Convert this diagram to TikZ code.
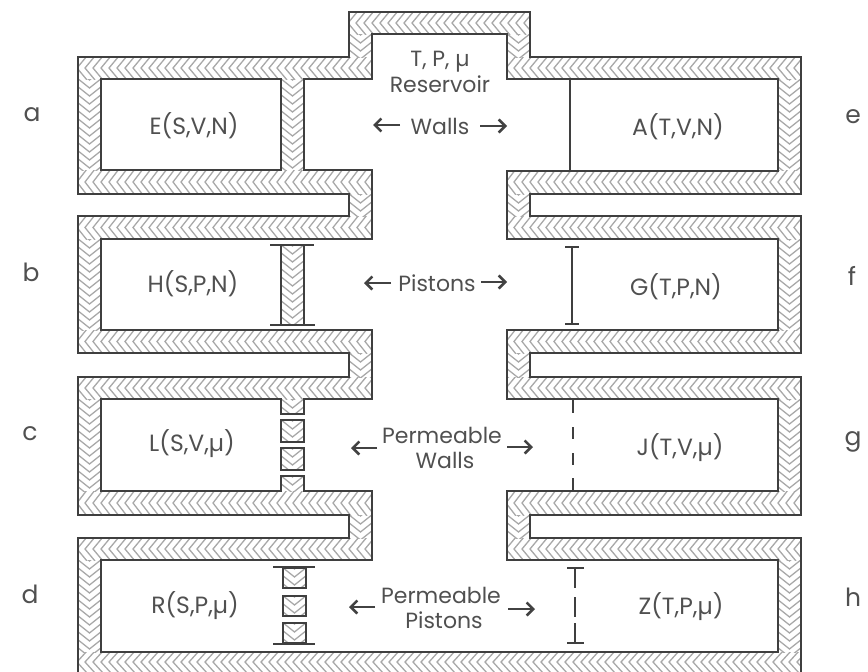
\documentclass[tikz,border=0pt]{standalone}
\usepackage{fontspec}
\setmainfont{Poppins}
\usepackage{xcolor}
\usetikzlibrary{arrows.meta}
\definecolor{wall}{HTML}{3F3F3F}
\definecolor{hatch}{HTML}{A8A8A8}
\definecolor{ink}{HTML}{505050}
\definecolor{mark}{HTML}{424242}
\tikzset{
  line/.style={draw=wall, line width=2pt, line join=miter},
  thin line/.style={draw=wall, line width=1.6pt},
  chev/.style={draw=hatch, line width=1.3pt},
  arr/.style={draw=mark, line width=2.5pt, -{Straight Barb[length=6.5pt,width=13pt]}},
  lbl/.style={text=ink, font=\fontsize{22}{24}\selectfont, inner sep=0pt},
  fn/.style={text=ink, font=\fontsize{23.5}{25}\selectfont, inner sep=0pt},
  side/.style={text=ink, font=\fontsize{25}{27}\selectfont, inner sep=0pt}
}
% hatched band running left-right: x1,y1,x2,y2
\newcommand{\hwall}[4]{
  \begin{scope}
    \clip (#1,#2) rectangle (#3,#4);
    \pgfmathsetmacro{\xnext}{#1-9}
    \pgfmathsetmacro{\xfirst}{#1-17}
    \foreach \x in {\xfirst,\xnext,...,#3}
      \draw[chev] (\x+10,#2-1) -- (\x,{(#2+#4)/2}) -- (\x+10,#4+1);
  \end{scope}
}
% hatched band running up-down: x1,y1,x2,y2
\newcommand{\vwall}[4]{
  \begin{scope}
    \clip (#1,#2) rectangle (#3,#4);
    \pgfmathsetmacro{\ynext}{#2-9}
    \pgfmathsetmacro{\yfirst}{#2-17}
    \foreach \y in {\yfirst,\ynext,...,#4}
      \draw[chev] (#1-1,\y) -- ({(#1+#3)/2},\y+10) -- (#3+1,\y);
  \end{scope}
}
\newcommand{\hatchbox}[4]{
  \vwall{#1}{#2}{#3}{#4}
  \draw[line] (#1,#2) rectangle (#3,#4);
}

\begin{document}
\begin{tikzpicture}[x=1pt,y=-1pt]
  \useasboundingbox (0,0) rectangle (868,672);

  % walls, hatching first
  \hwall{349}{12}{530}{34}
  \foreach \ya/\yb in {57/79,170/194,216/239,330/353,377/399,491/515,538/560}{
    \hwall{78}{\ya}{372}{\yb}
    \hwall{507}{\ya}{801}{\yb}
  }
  \hwall{78}{652}{801}{672}
  \foreach \ya/\yb in {79/170,239/330,399/491,560/652}{
    \vwall{78}{\ya}{101}{\yb}
    \vwall{778}{\ya}{801}{\yb}
  }
  \foreach \ya/\yb in {34/57,194/216,353/377,515/538}{
    \vwall{349}{\ya}{372}{\yb}
    \vwall{507}{\ya}{530}{\yb}
  }
  \vwall{281}{79}{304}{170}
  \vwall{281}{399}{304}{414}
  \vwall{281}{476}{304}{491}

  % outer edge
  \draw[line] (78,672)--(78,538)--(349,538)--(349,515)--(78,515)--(78,377)--(349,377)--(349,353)
    --(78,353)--(78,216)--(349,216)--(349,194)--(78,194)--(78,57)--(349,57)--(349,12)--(530,12)
    --(530,57)--(801,57)--(801,194)--(530,194)--(530,216)--(801,216)--(801,353)--(530,353)
    --(530,377)--(801,377)--(801,515)--(530,515)--(530,538)--(801,538)--(801,672);
  % inner edge
  \draw[line] (372,34)--(507,34)--(507,79)--(778,79)--(778,171)--(507,171)--(507,239)--(778,239)
    --(778,330)--(507,330)--(507,399)--(778,399)--(778,491)--(507,491)--(507,560)--(778,560)
    --(778,652)--(101,652)--(101,560)--(372,560)--(372,491)--(304,491)--(304,476)--(281,476)
    --(281,491)--(101,491)--(101,399)--(281,399)--(281,414)--(304,414)--(304,399)--(372,399)
    --(372,330)--(101,330)--(101,239)--(372,239)--(372,170)--(304,170)--(304,79)--(372,79)--cycle;
  \draw[line] (101,79) rectangle (281,170);

  % left side pistons
  \hatchbox{281}{245}{304}{325}
  \draw[thin line] (270,245)--(314,245);
  \draw[thin line] (270,325)--(315,325);
  \hatchbox{281}{420}{304}{442}
  \hatchbox{281}{448}{304}{470}
  \hatchbox{283}{568}{306}{588}
  \hatchbox{283}{596}{306}{616}
  \hatchbox{283}{623}{306}{643}
  \draw[thin line] (273,567)--(315,567);
  \draw[thin line] (273,644)--(315,644);

  % right side walls
  \draw[thin line] (570,79)--(570,171);
  \draw[thin line] (572,247)--(572,324);
  \draw[thin line] (565,247)--(579,247);
  \draw[thin line] (565,324)--(579,324);
  \foreach \ya/\yb in {400/413,427/439,453/465,478/492}
    \draw[thin line] (573,\ya)--(573,\yb);
  \foreach \ya/\yb in {568/588,597/617,623/643}
    \draw[thin line] (575,\ya)--(575,\yb);
  \draw[thin line] (567,568)--(584,568);
  \draw[thin line] (567,643)--(584,643);

  % state functions
  \node[fn] (E) at (194,126) {E(S,V,N)};
  \node[fn] (H) at (193,284) {H(S,P,N)};
  \node[fn] (L) at (192,444) {L(S,V,µ)};
  \node[fn] (R) at (195,606) {R(S,P,µ)};
  \node[fn] (A) at (678,127) {A(T,V,N)};
  \node[fn] (G) at (676,287) {G(T,P,N)};
  \node[fn] (J) at (680,448) {J(T,V,µ)};
  \node[fn] (Z) at (681,607) {Z(T,P,µ)};

  % row letters
  \node[side] (a) at (32,115) {a};
  \node[side] (b) at (31,272) {b};
  \node[side] (c) at (30,434) {c};
  \node[side] (d) at (30,594) {d};
  \node[side] (e) at (853,117) {e};
  \node[side] (f) at (852,276) {f};
  \node[side] (g) at (853,442) {g};
  \node[side] (h) at (853,597) {h};

  % middle column
  \node[lbl] (tpm) at (440,62) {T, P, µ};
  \node[lbl] (res) at (440,84) {Reservoir};
  \node[lbl] (walls) at (440,126) {Walls};
  \node[lbl] (pist) at (437,283) {Pistons};
  \node[lbl] (perm1) at (442,435) {Permeable};
  \node[lbl] (pwalls) at (445,460) {Walls};
  \node[lbl] (perm2) at (441,595) {Permeable};
  \node[lbl] (ppist) at (444,620) {Pistons};

  \coordinate (wl0) at (400,125);  \coordinate (wl1) at (373,125);
  \coordinate (wr0) at (480,126);  \coordinate (wr1) at (507,126);
  \coordinate (pl0) at (391,283);  \coordinate (pl1) at (364,283);
  \coordinate (pr0) at (481,282);  \coordinate (pr1) at (507,282);
  \coordinate (ql0) at (377,448);  \coordinate (ql1) at (351,448);
  \coordinate (qr0) at (507,447);  \coordinate (qr1) at (533,447);
  \coordinate (sl0) at (375,607);  \coordinate (sl1) at (349,607);
  \coordinate (sr0) at (508,609);  \coordinate (sr1) at (535,609);
  \draw[arr] (wl0)--(wl1);
  \draw[arr] (wr0)--(wr1);
  \draw[arr] (pl0)--(pl1);
  \draw[arr] (pr0)--(pr1);
  \draw[arr] (ql0)--(ql1);
  \draw[arr] (qr0)--(qr1);
  \draw[arr] (sl0)--(sl1);
  \draw[arr] (sr0)--(sr1);
\end{tikzpicture}
\end{document}
